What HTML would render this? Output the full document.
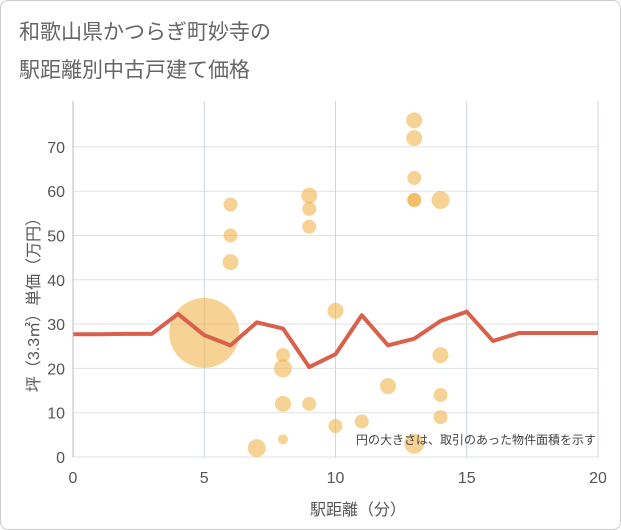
<!DOCTYPE html>
<html><head><meta charset="utf-8"><style>
body{margin:0;background:#fff;font-family:"Liberation Sans","Noto Sans CJK JP",sans-serif;}
#wrap{position:relative;width:619px;height:528px;border:1px solid #ccc;border-radius:8px;overflow:hidden;background:#fff}
</style></head><body>
<div id="wrap">
<svg id="c" width="621" height="530">
<text x="18" y="38" font-size="21" fill="#666">和歌山県かつらぎ町妙寺の</text>
<text x="18" y="76" font-size="21" fill="#666">駅距離別中古戸建て価格</text>
<g id="grid"></g><g id="pts"></g><g id="ln"></g><g id="ax"></g>
<text x="357" y="514" font-size="16" fill="#555" text-anchor="middle">駅距離（分）</text>
<text transform="translate(38,300) rotate(-90)" font-size="16" fill="#555" text-anchor="middle">坪（3.3㎡）単価（万円）</text>
<text x="595" y="443" font-size="12" fill="#444" text-anchor="end">円の大きさは、取引のあった物件面積を示す</text>
</svg></div>
<script>
const xTicks=[0,5,10,15,20];
const yTicks=[0,10,20,30,40,50,60,70];
const ptX=[5,6,6,6,7,8,8,8,8,9,9,9,9,10,10,11,12,13,13,13,13,13,13,14,14,14,14];
const ptY=[28,57,50,44,2,23,20,12,4,59,56,52,12,33,7,8,16,76,72,63,58,58,3,58,23,14,9];
const ptR=[35,7,7,8,9,7,9,8,5,8,7,7,7,8,7,7,8,8,8,7,7,7,10,9,8,7,7];
const lineX=[0,1,2,3,4,5,6,7,8,9,10,11,12,13,14,15,16,17,18,19,20];
const lineY=[27.7,27.7,27.8,27.8,32.3,27.5,25.2,30.4,29,20.3,23.2,32,25.2,26.7,30.7,32.8,26.2,28,28,28,28];
const X=v=>72+v*26.25, Y=v=>456-v*4.43;
const NS="http://www.w3.org/2000/svg";
function mk(p,t,a){const e=document.createElementNS(NS,t);for(const k in a)e.setAttribute(k,a[k]);document.getElementById(p).appendChild(e);return e;}
yTicks.forEach(v=>{const l=mk('grid','line',{x1:72,x2:597,y1:Y(v),y2:Y(v),stroke:'#dde2e8'});

const t=mk('ax','text',{x:64,y:Y(v)+6,'font-size':16,fill:'#555','text-anchor':'end'});t.textContent=v;
});
xTicks.forEach(v=>{if(v>0){const l=mk('grid','line',{x1:X(v),x2:X(v),y1:100,y2:456,stroke:'#ccd5e0'});
}
const t=mk('ax','text',{x:X(v),y:482,'font-size':16,fill:'#555','text-anchor':'middle'});t.textContent=v;
});
const a=mk('ax','line',{x1:72,x2:72,y1:100,y2:456,stroke:'#bbb'});

ptX.forEach((v,i)=>{const c=mk('pts','circle',{cx:X(v),cy:Y(ptY[i]),r:ptR[i],fill:'#f0b44c','fill-opacity':0.6});
});
const p=mk('ln','polyline',{points:lineX.map((v,i)=>X(v)+','+Y(lineY[i])).join(' '),fill:'none',stroke:'#d9604a','stroke-width':4,'stroke-linejoin':'round'});

</script></body></html>
